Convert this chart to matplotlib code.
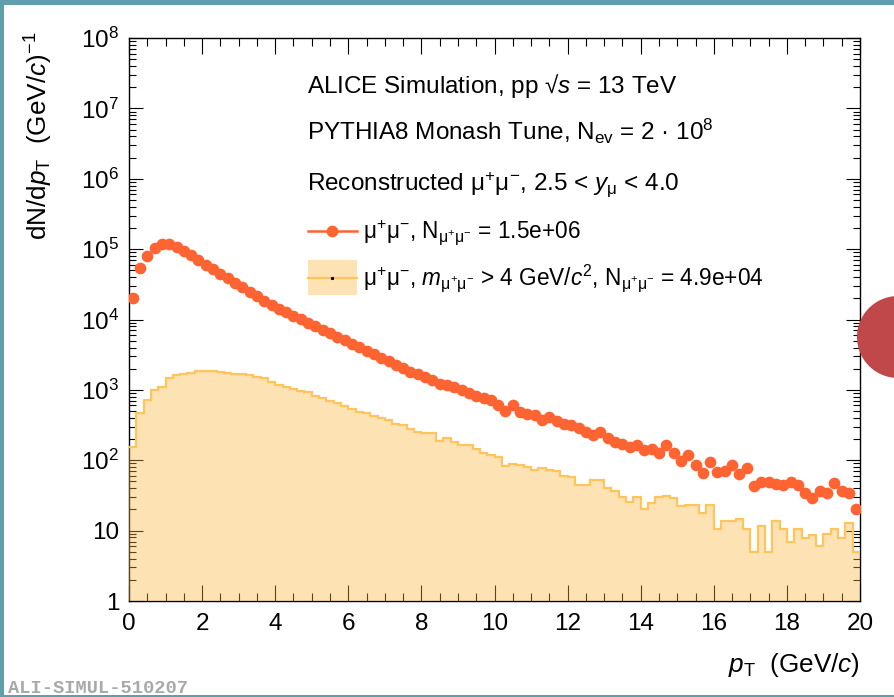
import matplotlib
matplotlib.use("Agg")
import matplotlib.pyplot as plt
import numpy as np
from matplotlib.patches import Rectangle, Circle
from matplotlib.ticker import FixedLocator, FuncFormatter, LogLocator, MultipleLocator, NullFormatter

# dN/dpT per 0.2 GeV/c bin, 0-20 GeV/c
pt_edges = np.linspace(0.0, 20.0, 101)
dimuon_all = [
    20300, 53200, 81000, 104000, 118000, 120000, 108000, 94000, 81500, 70000,
    60300, 52000, 44900, 38700, 33400, 28800, 24900, 21500, 18550, 16000,
    14290, 12740, 11360, 10130, 9030, 8050, 7190, 6410, 5720, 5100,
    4550, 4055, 3615, 3225, 2876, 2565, 2287, 2040, 1819, 1660,
    1535, 1378, 1209, 1170, 1107, 993, 892, 816, 772, 716,
    608, 505, 608, 489, 453, 439, 372, 406, 364, 327,
    316, 284, 254, 228, 254, 205, 183, 170, 156, 164,
    140, 143, 125, 164, 125, 98, 119, 85.5, 65.2, 95.2,
    68.7, 71, 85.5, 63.7, 78.2, 43, 49.5, 49.5, 45.9, 44.4,
    49.5, 44.4, 34.5, 29.3, 36.9, 34.5, 47.9, 36.9, 33.9, 20.1,
]
dimuon_mass_cut = [
    155, 463, 716, 993, 1085, 1456, 1623, 1676, 1750, 1832,
    1868, 1868, 1790, 1750, 1676, 1676, 1606, 1535, 1472, 1303,
    1170, 1107, 1016, 971, 940, 816, 757, 700, 656, 589,
    528, 489, 463, 424, 394, 372, 327, 313, 275, 254,
    246, 241, 189, 205, 183, 164, 164, 143, 128, 119,
    112, 82.7, 88.3, 85.5, 79.2, 72.6, 76.7, 72.6, 71, 60,
    58.3, 44.4, 44.4, 52.3, 52.3, 39.9, 36.9, 30, 25.5, 30,
    20.3, 24.4, 30.3, 31, 29.3, 22.1, 23.1, 23.1, 17.6, 23.1,
    10.5, 13.8, 13.8, 14.8, 10.5, 4.97, 11.6, 4.97, 13.7, 10.6,
    7.0, 10.6, 7.9, 8.7, 6.1, 8.9, 10.6, 7.9, 12.7, 4.9,
]
y_decades = [1, 10, 100, 1e3, 1e4, 1e5, 1e6, 1e7, 1e8]

ORANGE = "#fe6332"
FILL = "#fcb43c"
EDGE = "#fec55c"
TEAL = "#609faa"

plt.rcParams.update({
    "font.family": ["Liberation Sans", "DejaVu Sans"],
    "mathtext.fontset": "custom",
    "mathtext.rm": "Liberation Sans",
    "mathtext.it": "Liberation Sans:italic",
    "mathtext.bf": "Liberation Sans:bold",
})
FS = 17.5       # tick labels and header lines
FS_TITLE = 18.8  # axis titles
FS_LEG = 16.3    # legend entries

W, H = 895, 697
fig = plt.figure(figsize=(W / 100, H / 100), dpi=100)
ax = fig.add_axes([129 / W, 1 - 601 / H, 731 / W, 563 / H])

centers = 0.5 * (pt_edges[:-1] + pt_edges[1:])
ax.stairs(dimuon_mass_cut, pt_edges, baseline=1, fill=True, color=FILL, alpha=0.38, lw=0, zorder=3)
ax.stairs(dimuon_mass_cut, pt_edges, baseline=None, color=EDGE, lw=1.6, zorder=3.1)
ax.plot(centers, dimuon_all, "o", ms=7.4, color=ORANGE, mec=ORANGE, zorder=4)

ax.set_yscale("log")
ax.set_xlim(0, 20)
ax.set_ylim(1, 1e8)
ax.xaxis.set_major_locator(MultipleLocator(2))
ax.xaxis.set_minor_locator(MultipleLocator(0.5))
ax.yaxis.set_major_locator(FixedLocator(y_decades))
ax.yaxis.set_minor_locator(LogLocator(base=10, subs=np.arange(2, 10)))
ax.yaxis.set_minor_formatter(NullFormatter())


def decade_label(v, _pos):
    k = int(round(np.log10(v)))
    if k == 0:
        return "1"
    if k == 1:
        return "10"
    return r"$10^{%d}$" % k


ax.yaxis.set_major_formatter(FuncFormatter(decade_label))
ax.tick_params(axis="both", which="both", direction="in", top=True, right=True,
               width=0.8, labelsize=FS)
ax.tick_params(axis="x", which="major", length=11.8, pad=8.5)
ax.tick_params(axis="x", which="minor", length=5.8)
ax.tick_params(axis="y", which="major", length=10.2, pad=7)
ax.tick_params(axis="y", which="minor", length=5.2)
for sp in ax.spines.values():
    sp.set_linewidth(1.0)

# axis titles, ROOT style (aligned to the axis ends)
fig.text(39 / W, 1 - 32 / H, r"dN/d$p_{\mathrm{T}}$  (GeV/$c$)$^{-1}$", rotation=90,
         ha="center", va="top", fontsize=FS_TITLE)
fig.text(860 / W, 1 - 665 / H, r"$p_{\mathrm{T}}$  (GeV/$c$)", ha="right", va="center",
         fontsize=FS_TITLE)

# overlay in pixel coordinates for legend and slide decorations
ov = fig.add_axes([0, 0, 1, 1], zorder=10)
ov.set_xlim(0, W)
ov.set_ylim(H, 0)
ov.axis("off")
ov.patch.set_alpha(0)

ov.text(307, 93, "ALICE Simulation, pp √$s$ = 13 TeV", fontsize=FS, va="baseline")
ov.text(307, 140.5, r"PYTHIA8 Monash Tune, N$_{\mathrm{ev}}$ = 2 · 10$^{8}$", fontsize=FS, va="baseline")
ov.text(307, 191.5, r"Reconstructed μ$^{+}$μ$^{-}$, 2.5 < $y_{\mathrm{μ}}$ < 4.0", fontsize=FS, va="baseline")
ov.text(363, 239, r"μ$^{+}$μ$^{-}$, N$_{\mathrm{μ^{+}μ^{-}}}$ = 1.5e+06", fontsize=FS_LEG, va="baseline")
ov.text(363, 285, r"μ$^{+}$μ$^{-}$, $m_{\mathrm{μ^{+}μ^{-}}}$ > 4 GeV/$c^{2}$, N$_{\mathrm{μ^{+}μ^{-}}}$ = 4.9e+04",
        fontsize=FS_LEG, va="baseline")

ov.plot([308, 357], [231, 231], color=ORANGE, lw=1.8)
ov.plot([332.5], [231], "o", ms=7.4, color=ORANGE)
ov.add_patch(Rectangle((308, 260), 49, 35, fc=FILL, alpha=0.38, lw=0))
ov.plot([308, 357], [277.5, 277.5], color=EDGE, lw=1.6)
ov.plot([332.5], [277.5], "s", ms=1.2, color="black")

ov.text(8, 693, "ALI-SIMUL-510207", fontsize=13.5, family="Liberation Mono", weight="bold",
        color="#a9a9a9", va="baseline")

# slide frame around the screenshot
ov.add_patch(Rectangle((0, 0), W, 5, fc=TEAL, lw=0))
ov.add_patch(Rectangle((0, 0), 4, H, fc=TEAL, lw=0))
ov.add_patch(Rectangle((0, H - 2), W, 2, fc=TEAL, lw=0))
ov.add_patch(Circle((898, 337), 41, fc="#c0474a", lw=0))

fig.savefig("out.png", dpi=100)
